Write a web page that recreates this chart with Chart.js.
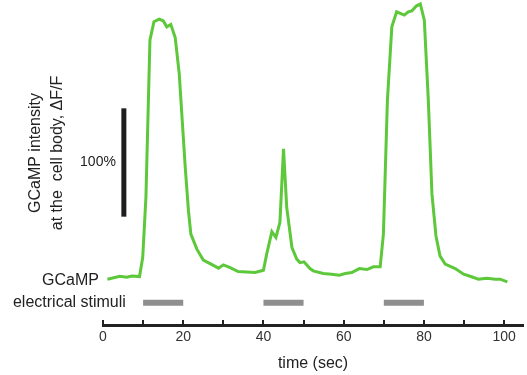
<!DOCTYPE html>
<html>
<head>
<meta charset="utf-8">
<script src="https://cdn.jsdelivr.net/npm/chart.js@4"></script>
<style>
  body { margin: 0; background: #fff; }
  #wrap { width: 527px; height: 375px; }
</style>
</head>
<body>
<div id="wrap"><canvas id="traceChart"></canvas></div>
<script>
// GCaMP trace (time in s, dF/F in %)
const timeSec = [1.1, 4.2, 5.9, 7.2, 9.1, 9.9, 10.7, 11.7, 12.7, 14.0, 15.0, 15.9, 16.9, 18.0, 19.0,
    20.5, 21.3, 21.9, 23.4, 25.0, 26.7, 28.8, 30.0, 31.7, 33.7, 37.9, 40.0, 40.8, 42.1, 43.1,
    44.1, 45.0, 45.8, 47.1, 48.3, 49.1, 50.1, 51.6, 52.4, 54.9, 57.0, 58.9, 60.4, 62.0, 63.9,
    65.8, 67.4, 69.1, 69.9, 70.9, 72.0, 73.2, 75.1, 76.1, 77.0, 78.1, 79.1, 80.1, 81.1, 82.0,
    83.0, 84.0, 85.3, 87.8, 89.9, 91.5, 93.6, 95.7, 97.8, 99.0, 100.8];
const dffPercent = [-2.1, 0.6, -0.3, 0.9, 0.3, 17.9, 73.4, 218.5, 235.5, 238, 236.4, 230.8, 233, 221, 187.7,
    101.2, 61.1, 39.5, 25.6, 15.5, 12.3, 8.1, 11.1, 8.6, 4.9, 4.0, 6.2, 21, 41.7, 36.4,
    50.3, 118.2, 64.2, 27.1, 16.4, 13.2, 13.9, 7.7, 5.6, 3.1, 2.5, 1.6, 3.1, 4.0, 7.7,
    6.8, 9.3, 9.3, 39.5, 163, 230.8, 244.7, 241.7, 244.7, 245.6, 250, 251.9, 237, 163, 76.6,
    38, 19.4, 11.8, 7.7, 2.5, 0.6, -2.1, -1.2, -2.1, -2.1, -4.6];

// electrical stimulation periods (s)
const stimOn = [10, 40, 70];
const stimOff = [20, 50, 80];
const stimLevel = -23.8;

// 100% scale bar
const scaleBarTime = 5.2;
const scaleBarFrom = 55.6;
const scaleBarSize = 100;

const labeledTicks = [0, 20, 40, 60, 80, 100];

const FONT = "'Liberation Sans', Arial, sans-serif";
const INK = '#222';

const tracePoints = timeSec.map((t, i) => ({ x: t, y: dffPercent[i] }));

const stimPoints = [];
stimOn.forEach((on, i) => {
    stimPoints.push({ x: on, y: stimLevel });
    stimPoints.push({ x: stimOff[i], y: stimLevel });
    stimPoints.push({ x: stimOff[i], y: null });
});

const scaleBarPoints = [
    { x: scaleBarTime, y: scaleBarFrom },
    { x: scaleBarTime, y: scaleBarFrom + scaleBarSize }
];

// labels placed next to the drawn marks
const sideLabels = {
    id: 'sideLabels',
    afterDraw(chart) {
        const ctx = chart.ctx;
        const xs = chart.scales.x;
        const ys = chart.scales.y;
        ctx.save();
        ctx.fillStyle = INK;
        ctx.textBaseline = 'middle';

        ctx.font = '16px ' + FONT;
        ctx.textAlign = 'right';
        ctx.fillText('GCaMP', xs.left - 4, ys.getPixelForValue(0) + 4);
        ctx.fillText('electrical stimuli', xs.getPixelForValue(5.7), ys.getPixelForValue(stimLevel));

        ctx.font = '14px ' + FONT;
        const barX = xs.getPixelForValue(scaleBarTime);
        const barMid = ys.getPixelForValue(scaleBarFrom + scaleBarSize / 2);
        ctx.fillText(scaleBarSize + '%', barX - 8, barMid);

        // y title, two rotated lines
        ctx.font = '16px ' + FONT;
        ctx.translate(46.5, 153);
        ctx.rotate(-Math.PI / 2);
        ctx.textAlign = 'center';
        ctx.fillText('GCaMP intensity', 0, -10.75);
        ctx.fillText('at the  cell body, \u0394F/F', 0, 10.75);
        ctx.restore();
    }
};

const ctx = document.getElementById('traceChart').getContext('2d');
new Chart(ctx, {
    type: 'scatter',
    data: {
        datasets: [
            {
                data: tracePoints,
                showLine: true,
                borderColor: '#5cc83a',
                borderWidth: 3,
                pointRadius: 0,
                tension: 0
            },
            {
                data: stimPoints,
                showLine: true,
                spanGaps: false,
                borderColor: '#8f8f8f',
                borderWidth: 6,
                borderCapStyle: 'butt',
                pointRadius: 0
            },
            {
                data: scaleBarPoints,
                showLine: true,
                borderColor: '#1e1e1e',
                borderWidth: 5,
                borderCapStyle: 'butt',
                pointRadius: 0
            }
        ]
    },
    options: {
        responsive: true,
        maintainAspectRatio: false,
        animation: false,
        layout: { padding: { left: 103, right: 4, top: 0, bottom: 0 } },
        plugins: {
            legend: { display: false },
            tooltip: { enabled: false }
        },
        scales: {
            x: {
                type: 'linear',
                min: 0,
                max: 104.7,
                grid: {
                    drawOnChartArea: false,
                    drawTicks: true,
                    tickLength: -5,
                    lineWidth: 2,
                    color: INK
                },
                border: { display: true, width: 3, color: INK },
                ticks: {
                    stepSize: 10,
                    includeBounds: false,
                    autoSkip: false,
                    maxRotation: 0,
                    padding: 9,
                    color: '#333',
                    font: { family: FONT, size: 14 },
                    callback: value => labeledTicks.includes(value) ? value : ''
                },
                title: {
                    display: true,
                    text: 'time (sec)',
                    color: INK,
                    font: { family: FONT, size: 16 },
                    padding: { top: -0.5, bottom: 1.5 }
                }
            },
            y: {
                display: false,
                min: -44.4,
                max: 255.6
            }
        }
    },
    plugins: [sideLabels]
});
</script>
</body>
</html>
